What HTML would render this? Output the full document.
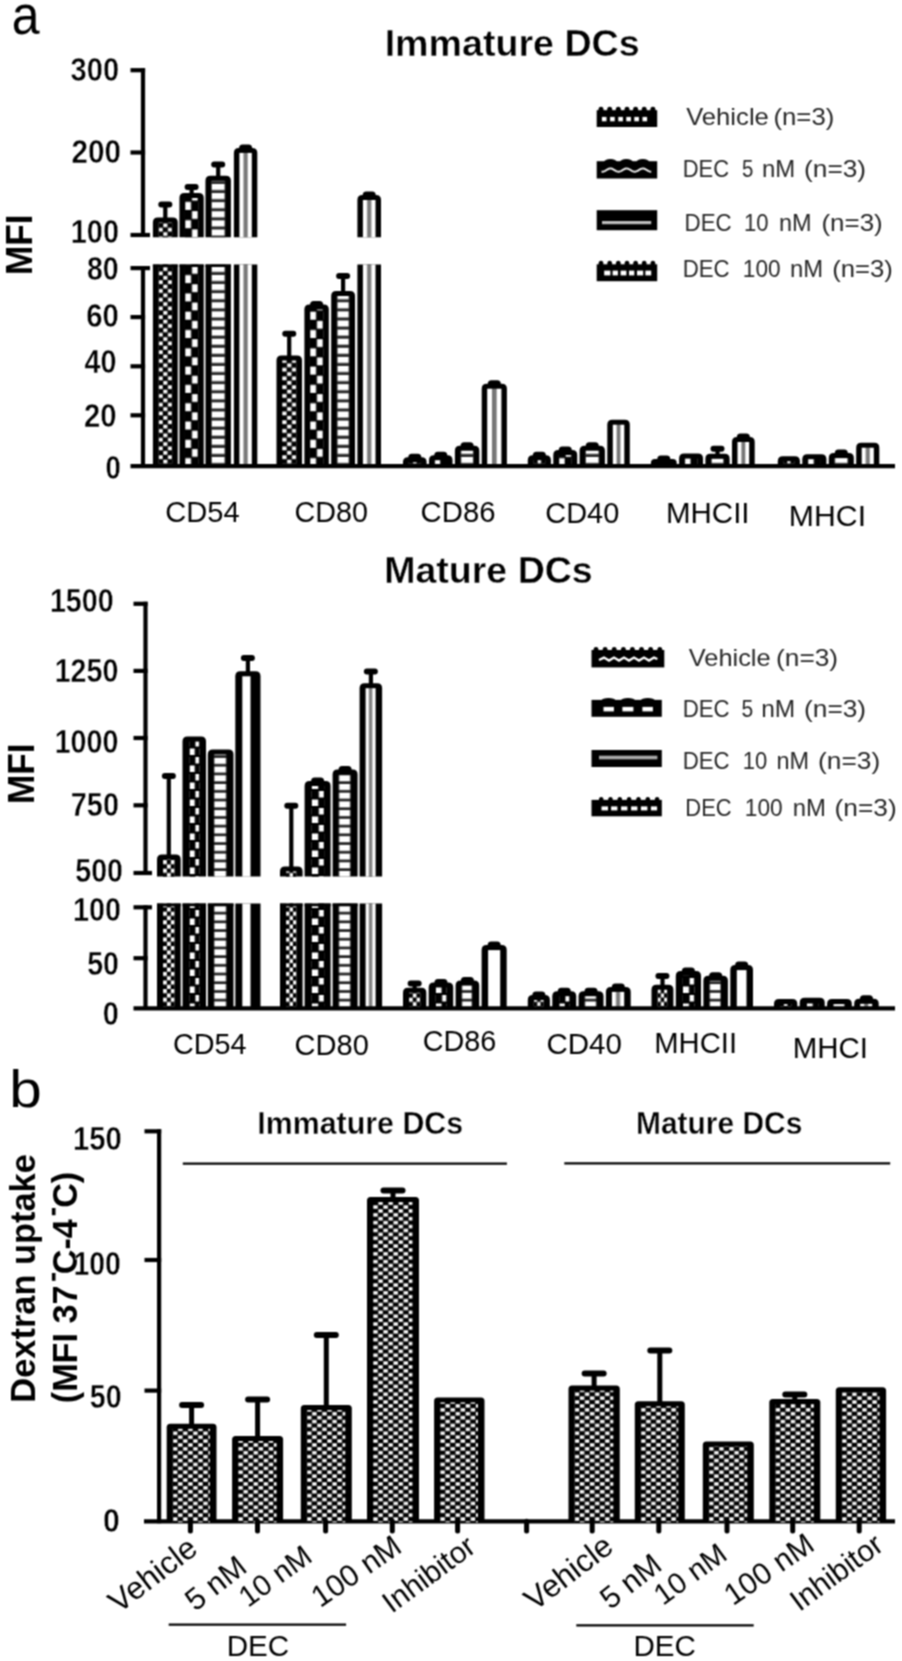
<!DOCTYPE html><html><head><meta charset="utf-8"><style>html,body{margin:0;padding:0;background:#fff;}svg{display:block;}#w{width:902px;height:1661px;overflow:hidden;}</style></head><body><div id="w">
<svg width="902" height="1661" viewBox="0 0 902 1661" font-family='"Liberation Sans", sans-serif'>
<filter id="bl" x="0" y="0" width="902" height="1661" filterUnits="userSpaceOnUse" color-interpolation-filters="sRGB"><feConvolveMatrix order="3" kernelMatrix="1 2 1 2 4 2 1 2 1" divisor="16" edgeMode="duplicate"/></filter>
<g filter="url(#bl)">
<rect width="902" height="1661" fill="#fff"/>
<text x="11.75" y="33.90" font-size="55" font-weight="normal" fill="#000" textLength="27.81" lengthAdjust="spacingAndGlyphs" >a</text>
<text x="384.65" y="56.00" font-size="37" font-weight="bold" fill="#000" textLength="255.04" lengthAdjust="spacingAndGlyphs" stroke="#fff" stroke-width="0.4">Immature DCs</text>
<g transform="translate(32.30,272.70) rotate(-90)">
<text x="-2.28" y="0.00" font-size="36" font-weight="bold" fill="#000" textLength="60.42" lengthAdjust="spacingAndGlyphs" >MFI</text>
</g>
<line x1="143.0" y1="68.3" x2="143.0" y2="237.0" stroke="#000" stroke-width="4.2" stroke-linecap="butt"/>
<line x1="130.5" y1="70.2" x2="145.1" y2="70.2" stroke="#000" stroke-width="4.2" stroke-linecap="butt"/>
<line x1="130.5" y1="152.5" x2="145.1" y2="152.5" stroke="#000" stroke-width="4.2" stroke-linecap="butt"/>
<line x1="130.5" y1="235.0" x2="150.0" y2="235.0" stroke="#000" stroke-width="4.2" stroke-linecap="butt"/>
<line x1="130.5" y1="268.1" x2="150.0" y2="268.1" stroke="#000" stroke-width="4.2" stroke-linecap="butt"/>
<line x1="143.0" y1="266.0" x2="143.0" y2="467.0" stroke="#000" stroke-width="4.2" stroke-linecap="butt"/>
<line x1="130.5" y1="317.1" x2="145.1" y2="317.1" stroke="#000" stroke-width="4.2" stroke-linecap="butt"/>
<line x1="130.5" y1="366.3" x2="145.1" y2="366.3" stroke="#000" stroke-width="4.2" stroke-linecap="butt"/>
<line x1="130.5" y1="415.3" x2="145.1" y2="415.3" stroke="#000" stroke-width="4.2" stroke-linecap="butt"/>
<text x="70.57" y="80.89" font-size="33" font-weight="bold" fill="#000" textLength="48.49" lengthAdjust="spacingAndGlyphs" stroke="#fff" stroke-width="0.45">300</text>
<text x="71.56" y="163.08" font-size="33" font-weight="bold" fill="#000" textLength="49.53" lengthAdjust="spacingAndGlyphs" stroke="#fff" stroke-width="0.45">200</text>
<text x="70.72" y="243.08" font-size="33" font-weight="bold" fill="#000" textLength="48.24" lengthAdjust="spacingAndGlyphs" stroke="#fff" stroke-width="0.45">100</text>
<text x="86.95" y="280.08" font-size="33" font-weight="bold" fill="#000" textLength="31.66" lengthAdjust="spacingAndGlyphs" stroke="#fff" stroke-width="0.45">80</text>
<text x="86.18" y="326.69" font-size="33" font-weight="bold" fill="#000" textLength="32.56" lengthAdjust="spacingAndGlyphs" stroke="#fff" stroke-width="0.45">60</text>
<text x="84.57" y="373.38" font-size="33" font-weight="bold" fill="#000" textLength="31.95" lengthAdjust="spacingAndGlyphs" stroke="#fff" stroke-width="0.45">40</text>
<text x="83.98" y="427.49" font-size="33" font-weight="bold" fill="#000" textLength="32.56" lengthAdjust="spacingAndGlyphs" stroke="#fff" stroke-width="0.45">20</text>
<text x="105.60" y="478.88" font-size="33" font-weight="bold" fill="#000" textLength="15.34" lengthAdjust="spacingAndGlyphs" stroke="#fff" stroke-width="0.45">0</text>
<g transform="translate(152.90,0)">
<path d="M0,237.2 V222.5 Q0,217.5 5.0,217.5 H19.85 Q24.85,217.5 24.85,222.5 V237.2 Z" fill="#000"/>
<rect x="5.5" y="222.5" width="13.85" height="14.7" fill="url(#q1)"/>
</g>
<g transform="translate(152.90,0)">
<rect x="0" y="264.5" width="24.85" height="202.6" fill="#000"/>
<rect x="5.5" y="264.5" width="13.85" height="202.6" fill="url(#q2)"/>
</g>
<rect x="152.90" y="264.50" width="24.85" height="2.5" fill="#000"/>
<line x1="165.3" y1="218.5" x2="165.3" y2="204.5" stroke="#000" stroke-width="4.2" stroke-linecap="butt"/>
<rect x="158.32" y="201.50" width="14" height="6" rx="3" ry="3" fill="#000"/>
<g transform="translate(179.45,0)">
<path d="M0,237.2 V198.0 Q0,193.0 5.0,193.0 H19.30 Q24.30,193.0 24.30,198.0 V237.2 Z" fill="#000"/>
<rect x="5.5" y="198.0" width="13.30" height="39.2" fill="url(#q3)"/>
</g>
<g transform="translate(179.45,0)">
<rect x="0" y="264.5" width="24.30" height="202.6" fill="#000"/>
<rect x="5.5" y="264.5" width="13.30" height="202.6" fill="url(#q4)"/>
</g>
<rect x="179.45" y="264.50" width="24.30" height="2.5" fill="#000"/>
<line x1="191.6" y1="194.0" x2="191.6" y2="187.0" stroke="#000" stroke-width="4.2" stroke-linecap="butt"/>
<rect x="184.60" y="184.00" width="14" height="6" rx="3" ry="3" fill="#000"/>
<g transform="translate(205.45,0)">
<path d="M0,237.2 V180.8 Q0,175.8 5.0,175.8 H20.45 Q25.45,175.8 25.45,180.8 V237.2 Z" fill="#000"/>
<rect x="5.5" y="180.8" width="14.45" height="56.4" fill="url(#q5)"/>
</g>
<g transform="translate(205.45,0)">
<rect x="0" y="264.5" width="25.45" height="202.6" fill="#000"/>
<rect x="5.5" y="264.5" width="14.45" height="202.6" fill="url(#q6)"/>
</g>
<rect x="205.45" y="264.50" width="25.45" height="2.5" fill="#000"/>
<line x1="218.2" y1="176.8" x2="218.2" y2="164.4" stroke="#000" stroke-width="4.2" stroke-linecap="butt"/>
<rect x="211.18" y="161.40" width="14" height="6" rx="3" ry="3" fill="#000"/>
<g transform="translate(233.90,0)">
<path d="M0,237.2 V152.9 Q0,147.9 5.0,147.9 H18.40 Q23.40,147.9 23.40,152.9 V237.2 Z" fill="#000"/>
<rect x="5.5" y="152.9" width="12.40" height="84.3" fill="url(#q7)"/>
</g>
<g transform="translate(233.90,0)">
<rect x="0" y="264.5" width="23.40" height="202.6" fill="#000"/>
<rect x="5.5" y="264.5" width="12.40" height="202.6" fill="url(#q8)"/>
</g>
<rect x="239.10" y="144.40" width="13" height="7" rx="3.5" ry="3.5" fill="#000"/>
<g transform="translate(276.50,0)">
<path d="M0,467.1 V360.5 Q0,355.5 5.0,355.5 H20.50 Q25.50,355.5 25.50,360.5 V467.1 Z" fill="#000"/>
<rect x="5.5" y="360.5" width="14.50" height="106.6" fill="url(#q9)"/>
</g>
<line x1="289.2" y1="356.5" x2="289.2" y2="333.7" stroke="#000" stroke-width="4.2" stroke-linecap="butt"/>
<rect x="282.25" y="330.70" width="14" height="6" rx="3" ry="3" fill="#000"/>
<g transform="translate(304.40,0)">
<path d="M0,467.1 V309.5 Q0,304.5 5.0,304.5 H19.40 Q24.40,304.5 24.40,309.5 V467.1 Z" fill="#000"/>
<rect x="5.5" y="309.5" width="13.40" height="157.6" fill="url(#q10)"/>
</g>
<rect x="310.10" y="301.00" width="13" height="7" rx="3.5" ry="3.5" fill="#000"/>
<g transform="translate(331.20,0)">
<path d="M0,467.1 V296.0 Q0,291.0 5.0,291.0 H18.80 Q23.80,291.0 23.80,296.0 V467.1 Z" fill="#000"/>
<rect x="5.5" y="296.0" width="12.80" height="171.1" fill="url(#q11)"/>
</g>
<line x1="343.1" y1="292.0" x2="343.1" y2="276.1" stroke="#000" stroke-width="4.2" stroke-linecap="butt"/>
<rect x="336.10" y="273.10" width="14" height="6" rx="3" ry="3" fill="#000"/>
<g transform="translate(357.40,0)">
<path d="M0,237.2 V200.0 Q0,195.0 5.0,195.0 H18.60 Q23.60,195.0 23.60,200.0 V237.2 Z" fill="#000"/>
<rect x="5.5" y="200.0" width="12.60" height="37.2" fill="url(#q12)"/>
</g>
<g transform="translate(357.40,0)">
<rect x="0" y="264.5" width="23.60" height="202.6" fill="#000"/>
<rect x="5.5" y="264.5" width="12.60" height="202.6" fill="url(#q13)"/>
</g>
<rect x="362.70" y="191.50" width="13" height="7" rx="3.5" ry="3.5" fill="#000"/>
<g transform="translate(403.00,0)">
<path d="M0,467.1 V462.1 Q0,457.2 4.950000000000017,457.2 H18.65 Q23.60,457.2 23.60,462.1 V467.1 Z" fill="#000"/>
<rect x="5.5" y="462.2" width="12.60" height="4.9" fill="url(#q14)"/>
</g>
<rect x="408.30" y="453.70" width="13" height="7" rx="3.5" ry="3.5" fill="#000"/>
<g transform="translate(429.00,0)">
<path d="M0,467.1 V460.2 Q0,455.2 5.0,455.2 H18.50 Q23.50,455.2 23.50,460.2 V467.1 Z" fill="#000"/>
<rect x="5.5" y="460.2" width="12.50" height="6.9" fill="url(#q15)"/>
</g>
<rect x="434.25" y="451.70" width="13" height="7" rx="3.5" ry="3.5" fill="#000"/>
<g transform="translate(454.90,0)">
<path d="M0,467.1 V450.7 Q0,445.7 5.0,445.7 H19.40 Q24.40,445.7 24.40,450.7 V467.1 Z" fill="#000"/>
<rect x="5.5" y="450.7" width="13.40" height="16.4" fill="url(#q16)"/>
</g>
<rect x="460.60" y="442.20" width="13" height="7" rx="3.5" ry="3.5" fill="#000"/>
<g transform="translate(481.70,0)">
<path d="M0,467.1 V388.7 Q0,383.7 5.0,383.7 H20.20 Q25.20,383.7 25.20,388.7 V467.1 Z" fill="#000"/>
<rect x="5.5" y="388.7" width="14.20" height="78.4" fill="url(#q17)"/>
</g>
<rect x="487.80" y="380.20" width="13" height="7" rx="3.5" ry="3.5" fill="#000"/>
<g transform="translate(527.80,0)">
<path d="M0,467.1 V460.2 Q0,455.2 5.0,455.2 H18.10 Q23.10,455.2 23.10,460.2 V467.1 Z" fill="#000"/>
<rect x="5.5" y="460.2" width="12.10" height="6.9" fill="url(#q18)"/>
</g>
<rect x="532.85" y="451.70" width="13" height="7" rx="3.5" ry="3.5" fill="#000"/>
<g transform="translate(553.30,0)">
<path d="M0,467.1 V455.0 Q0,450.0 5.0,450.0 H18.90 Q23.90,450.0 23.90,455.0 V467.1 Z" fill="#000"/>
<rect x="5.5" y="455.0" width="12.90" height="12.1" fill="url(#q19)"/>
</g>
<rect x="558.75" y="446.50" width="13" height="7" rx="3.5" ry="3.5" fill="#000"/>
<g transform="translate(579.60,0)">
<path d="M0,467.1 V450.7 Q0,445.7 5.0,445.7 H20.30 Q25.30,445.7 25.30,450.7 V467.1 Z" fill="#000"/>
<rect x="5.5" y="450.7" width="14.30" height="16.4" fill="url(#q20)"/>
</g>
<rect x="585.75" y="442.20" width="13" height="7" rx="3.5" ry="3.5" fill="#000"/>
<g transform="translate(607.30,0)">
<path d="M0,467.1 V424.7 Q0,419.7 5.0,419.7 H17.50 Q22.50,419.7 22.50,424.7 V467.1 Z" fill="#000"/>
<rect x="5.5" y="424.7" width="11.50" height="42.4" fill="url(#q21)"/>
</g>
<g transform="translate(650.90,0)">
<path d="M0,467.1 V463.1 Q0,459.0 4.050000000000011,459.0 H21.75 Q25.80,459.0 25.80,463.1 V467.1 Z" fill="#000"/>
<rect x="5.5" y="464.0" width="14.80" height="3.1" fill="url(#q22)"/>
</g>
<rect x="657.30" y="455.50" width="13" height="7" rx="3.5" ry="3.5" fill="#000"/>
<g transform="translate(679.10,0)">
<path d="M0,467.1 V458.4 Q0,453.4 5.0,453.4 H18.90 Q23.90,453.4 23.90,458.4 V467.1 Z" fill="#000"/>
<rect x="5.5" y="458.4" width="12.90" height="8.7" fill="url(#q23)"/>
</g>
<g transform="translate(705.40,0)">
<path d="M0,467.1 V458.8 Q0,453.8 5.0,453.8 H19.20 Q24.20,453.8 24.20,458.8 V467.1 Z" fill="#000"/>
<rect x="5.5" y="458.8" width="13.20" height="8.3" fill="url(#q24)"/>
</g>
<line x1="717.5" y1="454.8" x2="717.5" y2="448.7" stroke="#000" stroke-width="4.2" stroke-linecap="butt"/>
<rect x="710.50" y="445.70" width="14" height="6" rx="3" ry="3" fill="#000"/>
<g transform="translate(732.00,0)">
<path d="M0,467.1 V442.0 Q0,437.0 5.0,437.0 H17.70 Q22.70,437.0 22.70,442.0 V467.1 Z" fill="#000"/>
<rect x="5.5" y="442.0" width="11.70" height="25.1" fill="url(#q25)"/>
</g>
<rect x="736.85" y="433.50" width="13" height="7" rx="3.5" ry="3.5" fill="#000"/>
<g transform="translate(777.80,0)">
<path d="M0,467.1 V461.2 Q0,456.2 5.0,456.2 H17.10 Q22.10,456.2 22.10,461.2 V467.1 Z" fill="#000"/>
<rect x="5.5" y="461.2" width="11.10" height="5.9" fill="url(#q26)"/>
</g>
<g transform="translate(802.30,0)">
<path d="M0,467.1 V459.2 Q0,454.2 5.0,454.2 H19.10 Q24.10,454.2 24.10,459.2 V467.1 Z" fill="#000"/>
<rect x="5.5" y="459.2" width="13.10" height="7.9" fill="url(#q27)"/>
</g>
<g transform="translate(828.80,0)">
<path d="M0,467.1 V458.1 Q0,453.1 5.0,453.1 H20.00 Q25.00,453.1 25.00,458.1 V467.1 Z" fill="#000"/>
<rect x="5.5" y="458.1" width="14.00" height="9.0" fill="url(#q28)"/>
</g>
<rect x="834.80" y="449.60" width="13" height="7" rx="3.5" ry="3.5" fill="#000"/>
<g transform="translate(856.20,0)">
<path d="M0,467.1 V447.7 Q0,442.7 5.0,442.7 H18.10 Q23.10,442.7 23.10,447.7 V467.1 Z" fill="#000"/>
<rect x="5.5" y="447.7" width="12.10" height="19.4" fill="url(#q29)"/>
</g>
<line x1="130.5" y1="466.1" x2="895.0" y2="466.1" stroke="#000" stroke-width="4.2" stroke-linecap="butt"/>
<text x="165.35" y="522.20" font-size="29" font-weight="normal" fill="#000" textLength="74.38" lengthAdjust="spacingAndGlyphs" >CD54</text>
<text x="294.56" y="522.20" font-size="29" font-weight="normal" fill="#000" textLength="73.43" lengthAdjust="spacingAndGlyphs" >CD80</text>
<text x="420.64" y="522.20" font-size="29" font-weight="normal" fill="#000" textLength="74.83" lengthAdjust="spacingAndGlyphs" >CD86</text>
<text x="545.36" y="522.50" font-size="29" font-weight="normal" fill="#000" textLength="73.85" lengthAdjust="spacingAndGlyphs" >CD40</text>
<text x="665.94" y="522.50" font-size="29" font-weight="normal" fill="#000" textLength="83.61" lengthAdjust="spacingAndGlyphs" >MHCII</text>
<text x="788.88" y="526.40" font-size="29" font-weight="normal" fill="#000" textLength="77.19" lengthAdjust="spacingAndGlyphs" >MHCI</text>
<rect x="596.7" y="110.2" width="60.5" height="16.8" fill="#000"/>
<ellipse cx="601.0" cy="110.2" rx="2.6" ry="3.4" fill="#000"/><ellipse cx="609.7" cy="110.2" rx="2.6" ry="3.4" fill="#000"/><ellipse cx="618.3" cy="110.2" rx="2.6" ry="3.4" fill="#000"/><ellipse cx="627.0" cy="110.2" rx="2.6" ry="3.4" fill="#000"/><ellipse cx="635.6" cy="110.2" rx="2.6" ry="3.4" fill="#000"/><ellipse cx="644.2" cy="110.2" rx="2.6" ry="3.4" fill="#000"/><ellipse cx="652.9" cy="110.2" rx="2.6" ry="3.4" fill="#000"/>
<rect x="601.9" y="116.9" width="4.6" height="4.4" fill="#fff"/>
<rect x="610.1" y="116.9" width="4.6" height="4.4" fill="#fff"/>
<rect x="618.3" y="116.9" width="4.6" height="4.4" fill="#fff"/>
<rect x="626.3" y="116.9" width="4.6" height="4.4" fill="#fff"/>
<rect x="634.3" y="116.9" width="4.6" height="4.4" fill="#fff"/>
<rect x="642.5" y="116.9" width="4.6" height="4.4" fill="#fff"/>
<rect x="596.7" y="161.2" width="60.5" height="17.3" fill="#000"/>
<ellipse cx="610.4" cy="162.2" rx="6.5" ry="3.2" fill="#000"/>
<ellipse cx="626.4" cy="162.2" rx="6.5" ry="3.2" fill="#000"/>
<ellipse cx="642.8" cy="162.2" rx="6.5" ry="3.2" fill="#000"/>
<polyline points="601.5,171.6 602.1,171.7 602.7,171.7 603.4,171.6 604.0,171.4 604.6,171.1 605.2,170.8 605.8,170.4 606.5,170.0 607.1,169.6 607.7,169.3 608.3,169.0 609.0,168.7 609.6,168.6 610.2,168.5 610.8,168.5 611.4,168.6 612.1,168.8 612.7,169.1 613.3,169.4 613.9,169.8 614.5,170.2 615.2,170.5 615.8,170.9 616.4,171.2 617.0,171.4 617.7,171.6 618.3,171.7 618.9,171.7 619.5,171.6 620.1,171.4 620.8,171.1 621.4,170.8 622.0,170.4 622.6,170.1 623.2,169.7 623.9,169.3 624.5,169.0 625.1,168.8 625.7,168.6 626.4,168.5 627.0,168.5 627.6,168.6 628.2,168.8 628.8,169.1 629.5,169.4 630.1,169.7 630.7,170.1 631.3,170.5 631.9,170.9 632.6,171.2 633.2,171.4 633.8,171.6 634.4,171.7 635.0,171.7 635.7,171.6 636.3,171.4 636.9,171.1 637.5,170.8 638.2,170.5 638.8,170.1 639.4,169.7 640.0,169.3 640.6,169.0 641.3,168.8 641.9,168.6 642.5,168.5 643.1,168.5 643.7,168.6 644.4,168.8 645.0,169.0 645.6,169.4 646.2,169.7 646.9,170.1 647.5,170.5 648.1,170.8 648.7,171.2 649.3,171.4 650.0,171.6 650.6,171.7 651.2,171.7" fill="none" stroke="#e8e8e8" stroke-width="2.0"/>
<rect x="596.7" y="210.2" width="60.5" height="20" fill="#000"/>
<rect x="602" y="221" width="49.2" height="3.2" fill="#bdbdbd"/>
<rect x="596.7" y="264.3" width="60.5" height="16.9" fill="#000"/>
<ellipse cx="601.0" cy="263.6" rx="2.4" ry="2.9" fill="#000"/><ellipse cx="609.7" cy="263.6" rx="2.4" ry="2.9" fill="#000"/><ellipse cx="618.3" cy="263.6" rx="2.4" ry="2.9" fill="#000"/><ellipse cx="627.0" cy="263.6" rx="2.4" ry="2.9" fill="#000"/><ellipse cx="635.6" cy="263.6" rx="2.4" ry="2.9" fill="#000"/><ellipse cx="644.2" cy="263.6" rx="2.4" ry="2.9" fill="#000"/><ellipse cx="652.9" cy="263.6" rx="2.4" ry="2.9" fill="#000"/>
<rect x="604.2" y="270.6" width="6.2" height="4.8" fill="#fff"/>
<rect x="612.6" y="270.6" width="5.3" height="4.8" fill="#fff"/>
<rect x="620.6" y="270.6" width="5.8" height="4.8" fill="#fff"/>
<rect x="629.0" y="270.6" width="5.3" height="4.8" fill="#fff"/>
<rect x="637.0" y="270.6" width="6.2" height="4.8" fill="#fff"/>
<rect x="645.4" y="270.6" width="5.8" height="4.8" fill="#fff"/>
<text x="686.17" y="125.20" font-size="24" font-weight="normal" fill="#262626" textLength="82.68" lengthAdjust="spacingAndGlyphs" >Vehicle</text>
<text x="773.45" y="125.20" font-size="24" font-weight="normal" fill="#262626" textLength="60.85" lengthAdjust="spacingAndGlyphs" >(n=3)</text>
<text x="682.75" y="176.50" font-size="24" font-weight="normal" fill="#262626" textLength="46.26" lengthAdjust="spacingAndGlyphs" >DEC</text>
<text x="741.88" y="176.50" font-size="24" font-weight="normal" fill="#262626" textLength="11.36" lengthAdjust="spacingAndGlyphs" >5</text>
<text x="761.94" y="176.50" font-size="24" font-weight="normal" fill="#262626" textLength="33.27" lengthAdjust="spacingAndGlyphs" >nM</text>
<text x="804.02" y="176.50" font-size="24" font-weight="normal" fill="#262626" textLength="62.12" lengthAdjust="spacingAndGlyphs" >(n=3)</text>
<text x="684.52" y="230.50" font-size="24" font-weight="normal" fill="#262626" textLength="47.11" lengthAdjust="spacingAndGlyphs" >DEC</text>
<text x="744.04" y="230.50" font-size="24" font-weight="normal" fill="#262626" textLength="24.59" lengthAdjust="spacingAndGlyphs" >10</text>
<text x="779.07" y="230.50" font-size="24" font-weight="normal" fill="#262626" textLength="32.60" lengthAdjust="spacingAndGlyphs" >nM</text>
<text x="821.44" y="230.50" font-size="24" font-weight="normal" fill="#262626" textLength="61.28" lengthAdjust="spacingAndGlyphs" >(n=3)</text>
<text x="682.72" y="277.00" font-size="24" font-weight="normal" fill="#262626" textLength="46.90" lengthAdjust="spacingAndGlyphs" >DEC</text>
<text x="742.80" y="277.00" font-size="24" font-weight="normal" fill="#262626" textLength="37.78" lengthAdjust="spacingAndGlyphs" >100</text>
<text x="790.05" y="277.00" font-size="24" font-weight="normal" fill="#262626" textLength="33.16" lengthAdjust="spacingAndGlyphs" >nM</text>
<text x="832.16" y="277.00" font-size="24" font-weight="normal" fill="#262626" textLength="60.75" lengthAdjust="spacingAndGlyphs" >(n=3)</text>
<text x="384.16" y="582.60" font-size="37" font-weight="bold" fill="#000" textLength="208.61" lengthAdjust="spacingAndGlyphs" stroke="#fff" stroke-width="0.4">Mature DCs</text>
<g transform="translate(34.40,801.70) rotate(-90)">
<text x="-2.29" y="0.00" font-size="36" font-weight="bold" fill="#000" textLength="60.53" lengthAdjust="spacingAndGlyphs" >MFI</text>
</g>
<line x1="145.5" y1="601.7" x2="145.5" y2="875.0" stroke="#000" stroke-width="4.2" stroke-linecap="butt"/>
<line x1="133.5" y1="603.8" x2="147.6" y2="603.8" stroke="#000" stroke-width="4.2" stroke-linecap="butt"/>
<line x1="133.5" y1="670.9" x2="147.6" y2="670.9" stroke="#000" stroke-width="4.2" stroke-linecap="butt"/>
<line x1="133.5" y1="738.0" x2="147.6" y2="738.0" stroke="#000" stroke-width="4.2" stroke-linecap="butt"/>
<line x1="133.5" y1="805.3" x2="147.6" y2="805.3" stroke="#000" stroke-width="4.2" stroke-linecap="butt"/>
<line x1="133.5" y1="873.0" x2="152.0" y2="873.0" stroke="#000" stroke-width="4.2" stroke-linecap="butt"/>
<line x1="133.5" y1="907.3" x2="152.0" y2="907.3" stroke="#000" stroke-width="4.2" stroke-linecap="butt"/>
<line x1="145.5" y1="905.2" x2="145.5" y2="1009.0" stroke="#000" stroke-width="4.2" stroke-linecap="butt"/>
<line x1="133.5" y1="958.2" x2="147.6" y2="958.2" stroke="#000" stroke-width="4.2" stroke-linecap="butt"/>
<text x="49.94" y="611.99" font-size="33" font-weight="bold" fill="#000" textLength="63.70" lengthAdjust="spacingAndGlyphs" stroke="#fff" stroke-width="0.45">1500</text>
<text x="54.64" y="682.49" font-size="33" font-weight="bold" fill="#000" textLength="63.70" lengthAdjust="spacingAndGlyphs" stroke="#fff" stroke-width="0.45">1250</text>
<text x="54.64" y="752.99" font-size="33" font-weight="bold" fill="#000" textLength="63.70" lengthAdjust="spacingAndGlyphs" stroke="#fff" stroke-width="0.45">1000</text>
<text x="70.80" y="815.99" font-size="33" font-weight="bold" fill="#000" textLength="48.15" lengthAdjust="spacingAndGlyphs" stroke="#fff" stroke-width="0.45">750</text>
<text x="75.24" y="881.88" font-size="33" font-weight="bold" fill="#000" textLength="47.70" lengthAdjust="spacingAndGlyphs" stroke="#fff" stroke-width="0.45">500</text>
<text x="72.93" y="921.38" font-size="33" font-weight="bold" fill="#000" textLength="48.02" lengthAdjust="spacingAndGlyphs" stroke="#fff" stroke-width="0.45">100</text>
<text x="87.25" y="975.38" font-size="33" font-weight="bold" fill="#000" textLength="31.66" lengthAdjust="spacingAndGlyphs" stroke="#fff" stroke-width="0.45">50</text>
<text x="102.85" y="1024.59" font-size="33" font-weight="bold" fill="#000" textLength="16.04" lengthAdjust="spacingAndGlyphs" stroke="#fff" stroke-width="0.45">0</text>
<g transform="translate(157.00,0)">
<path d="M0,876.6 V859.6 Q0,854.6 5.0,854.6 H18.70 Q23.70,854.6 23.70,859.6 V876.6 Z" fill="#000"/>
<rect x="6" y="859.6" width="11.70" height="17.0" fill="url(#q30)"/>
</g>
<g transform="translate(157.00,0)">
<rect x="0" y="903.5" width="23.70" height="105.8" fill="#000"/>
<rect x="6" y="903.5" width="11.70" height="105.8" fill="url(#q31)"/>
</g>
<rect x="157.00" y="903.50" width="23.70" height="2.8" fill="#000"/>
<line x1="168.8" y1="855.6" x2="168.8" y2="776.0" stroke="#000" stroke-width="4.2" stroke-linecap="butt"/>
<rect x="161.85" y="773.00" width="14" height="6" rx="3" ry="3" fill="#000"/>
<g transform="translate(182.50,0)">
<path d="M0,876.6 V741.6 Q0,736.6 5.0,736.6 H18.50 Q23.50,736.6 23.50,741.6 V876.6 Z" fill="#000"/>
<rect x="7" y="741.6" width="10.00" height="135.0" fill="url(#q32)"/>
</g>
<g transform="translate(182.50,0)">
<rect x="0" y="903.5" width="23.50" height="105.8" fill="#000"/>
<rect x="7" y="903.5" width="10.00" height="105.8" fill="url(#q33)"/>
</g>
<rect x="182.50" y="903.50" width="23.50" height="2.8" fill="#000"/>
<g transform="translate(207.80,0)">
<path d="M0,876.6 V754.5 Q0,749.5 5.0,749.5 H20.70 Q25.70,749.5 25.70,754.5 V876.6 Z" fill="#000"/>
<rect x="6" y="754.5" width="12.70" height="122.1" fill="url(#q34)"/>
</g>
<g transform="translate(207.80,0)">
<rect x="0" y="903.5" width="25.70" height="105.8" fill="#000"/>
<rect x="6" y="903.5" width="12.70" height="105.8" fill="url(#q35)"/>
</g>
<rect x="207.80" y="903.50" width="25.70" height="2.8" fill="#000"/>
<g transform="translate(235.30,0)">
<path d="M0,876.6 V676.3 Q0,671.3 5.0,671.3 H20.20 Q25.20,671.3 25.20,676.3 V876.6 Z" fill="#000"/>
<rect x="7" y="676.3" width="8.20" height="200.3" fill="#fff"/>
</g>
<g transform="translate(235.30,0)">
<rect x="0" y="903.5" width="25.20" height="105.8" fill="#000"/>
<rect x="7" y="903.5" width="8.20" height="105.8" fill="#fff"/>
</g>
<line x1="247.9" y1="672.3" x2="247.9" y2="658.0" stroke="#000" stroke-width="4.2" stroke-linecap="butt"/>
<rect x="240.90" y="655.00" width="14" height="6" rx="3" ry="3" fill="#000"/>
<g transform="translate(280.00,0)">
<path d="M0,876.6 V871.4 Q0,866.4 5.0,866.4 H17.60 Q22.60,866.4 22.60,871.4 V876.6 Z" fill="#000"/>
<rect x="6" y="871.4" width="10.60" height="5.2" fill="url(#q36)"/>
</g>
<g transform="translate(280.00,0)">
<rect x="0" y="903.5" width="22.60" height="105.8" fill="#000"/>
<rect x="6" y="903.5" width="10.60" height="105.8" fill="url(#q37)"/>
</g>
<rect x="280.00" y="903.50" width="22.60" height="2.8" fill="#000"/>
<line x1="291.3" y1="867.4" x2="291.3" y2="805.8" stroke="#000" stroke-width="4.2" stroke-linecap="butt"/>
<rect x="284.30" y="802.80" width="14" height="6" rx="3" ry="3" fill="#000"/>
<g transform="translate(304.60,0)">
<path d="M0,876.6 V786.0 Q0,781.0 5.0,781.0 H21.00 Q26.00,781.0 26.00,786.0 V876.6 Z" fill="#000"/>
<rect x="7" y="786.0" width="12.50" height="90.6" fill="url(#q38)"/>
</g>
<g transform="translate(304.60,0)">
<rect x="0" y="903.5" width="26.00" height="105.8" fill="#000"/>
<rect x="7" y="903.5" width="12.50" height="105.8" fill="url(#q39)"/>
</g>
<rect x="304.60" y="903.50" width="26.00" height="2.8" fill="#000"/>
<rect x="311.10" y="777.50" width="13" height="7" rx="3.5" ry="3.5" fill="#000"/>
<g transform="translate(332.60,0)">
<path d="M0,876.6 V774.5 Q0,769.5 5.0,769.5 H20.00 Q25.00,769.5 25.00,774.5 V876.6 Z" fill="#000"/>
<rect x="6" y="774.5" width="12.00" height="102.1" fill="url(#q40)"/>
</g>
<g transform="translate(332.60,0)">
<rect x="0" y="903.5" width="25.00" height="105.8" fill="#000"/>
<rect x="6" y="903.5" width="12.00" height="105.8" fill="url(#q41)"/>
</g>
<rect x="332.60" y="903.50" width="25.00" height="2.8" fill="#000"/>
<rect x="338.60" y="766.00" width="13" height="7" rx="3.5" ry="3.5" fill="#000"/>
<g transform="translate(359.60,0)">
<path d="M0,876.6 V688.2 Q0,683.2 5.0,683.2 H17.50 Q22.50,683.2 22.50,688.2 V876.6 Z" fill="#000"/>
<rect x="6" y="688.2" width="10.00" height="188.4" fill="url(#q42)"/>
</g>
<g transform="translate(359.60,0)">
<rect x="0" y="903.5" width="22.50" height="105.8" fill="#000"/>
<rect x="6" y="903.5" width="10.00" height="105.8" fill="url(#q43)"/>
</g>
<line x1="370.9" y1="684.2" x2="370.9" y2="671.5" stroke="#000" stroke-width="4.2" stroke-linecap="butt"/>
<rect x="363.85" y="668.50" width="14" height="6" rx="3" ry="3" fill="#000"/>
<g transform="translate(403.00,0)">
<path d="M0,1009.3 V992.7 Q0,987.7 5.0,987.7 H18.30 Q23.30,987.7 23.30,992.7 V1009.3 Z" fill="#000"/>
<rect x="6" y="992.7" width="11.30" height="16.6" fill="url(#q44)"/>
</g>
<line x1="414.6" y1="988.7" x2="414.6" y2="983.4" stroke="#000" stroke-width="4.2" stroke-linecap="butt"/>
<rect x="407.65" y="980.40" width="14" height="6" rx="3" ry="3" fill="#000"/>
<g transform="translate(428.70,0)">
<path d="M0,1009.3 V987.5 Q0,982.5 5.0,982.5 H19.50 Q24.50,982.5 24.50,987.5 V1009.3 Z" fill="#000"/>
<rect x="7" y="987.5" width="11.00" height="21.8" fill="url(#q45)"/>
</g>
<rect x="434.45" y="979.00" width="13" height="7" rx="3.5" ry="3.5" fill="#000"/>
<g transform="translate(455.60,0)">
<path d="M0,1009.3 V985.6 Q0,980.6 5.0,980.6 H18.60 Q23.60,980.6 23.60,985.6 V1009.3 Z" fill="#000"/>
<rect x="6" y="985.6" width="10.60" height="23.7" fill="url(#q46)"/>
</g>
<rect x="460.90" y="977.10" width="13" height="7" rx="3.5" ry="3.5" fill="#000"/>
<g transform="translate(481.60,0)">
<path d="M0,1009.3 V950.1 Q0,945.1 5.0,945.1 H20.10 Q25.10,945.1 25.10,950.1 V1009.3 Z" fill="#000"/>
<rect x="6.5" y="950.1" width="12.10" height="59.2" fill="#fff"/>
</g>
<rect x="487.65" y="941.60" width="13" height="7" rx="3.5" ry="3.5" fill="#000"/>
<g transform="translate(527.80,0)">
<path d="M0,1009.3 V1000.0 Q0,995.0 5.0,995.0 H17.10 Q22.10,995.0 22.10,1000.0 V1009.3 Z" fill="#000"/>
<rect x="6" y="1000.0" width="10.10" height="9.3" fill="url(#q47)"/>
</g>
<rect x="532.35" y="991.50" width="13" height="7" rx="3.5" ry="3.5" fill="#000"/>
<g transform="translate(552.30,0)">
<path d="M0,1009.3 V996.2 Q0,991.2 5.0,991.2 H18.90 Q23.90,991.2 23.90,996.2 V1009.3 Z" fill="#000"/>
<rect x="7" y="996.2" width="10.40" height="13.1" fill="url(#q48)"/>
</g>
<rect x="557.75" y="987.70" width="13" height="7" rx="3.5" ry="3.5" fill="#000"/>
<g transform="translate(578.60,0)">
<path d="M0,1009.3 V996.2 Q0,991.2 5.0,991.2 H19.90 Q24.90,991.2 24.90,996.2 V1009.3 Z" fill="#000"/>
<rect x="6" y="996.2" width="11.90" height="13.1" fill="url(#q49)"/>
</g>
<rect x="584.55" y="987.70" width="13" height="7" rx="3.5" ry="3.5" fill="#000"/>
<g transform="translate(605.90,0)">
<path d="M0,1009.3 V991.9 Q0,986.9 5.0,986.9 H19.80 Q24.80,986.9 24.80,991.9 V1009.3 Z" fill="#000"/>
<rect x="6" y="991.9" width="12.30" height="17.4" fill="url(#q50)"/>
</g>
<rect x="611.80" y="983.40" width="13" height="7" rx="3.5" ry="3.5" fill="#000"/>
<g transform="translate(651.50,0)">
<path d="M0,1009.3 V989.7 Q0,984.7 5.0,984.7 H16.90 Q21.90,984.7 21.90,989.7 V1009.3 Z" fill="#000"/>
<rect x="6" y="989.7" width="9.90" height="19.6" fill="url(#q51)"/>
</g>
<line x1="662.5" y1="985.7" x2="662.5" y2="976.0" stroke="#000" stroke-width="4.2" stroke-linecap="butt"/>
<rect x="655.45" y="973.00" width="14" height="6" rx="3" ry="3" fill="#000"/>
<g transform="translate(675.80,0)">
<path d="M0,1009.3 V975.9 Q0,970.9 5.0,970.9 H20.20 Q25.20,970.9 25.20,975.9 V1009.3 Z" fill="#000"/>
<rect x="7" y="975.9" width="11.70" height="33.4" fill="url(#q52)"/>
</g>
<rect x="681.90" y="967.40" width="13" height="7" rx="3.5" ry="3.5" fill="#000"/>
<g transform="translate(703.40,0)">
<path d="M0,1009.3 V980.8 Q0,975.8 5.0,975.8 H19.50 Q24.50,975.8 24.50,980.8 V1009.3 Z" fill="#000"/>
<rect x="6" y="980.8" width="11.50" height="28.5" fill="url(#q53)"/>
</g>
<rect x="709.15" y="972.30" width="13" height="7" rx="3.5" ry="3.5" fill="#000"/>
<g transform="translate(730.30,0)">
<path d="M0,1009.3 V970.1 Q0,965.1 5.0,965.1 H17.70 Q22.70,965.1 22.70,970.1 V1009.3 Z" fill="#000"/>
<rect x="6.5" y="970.1" width="9.70" height="39.2" fill="#fff"/>
</g>
<rect x="735.15" y="961.60" width="13" height="7" rx="3.5" ry="3.5" fill="#000"/>
<g transform="translate(774.00,0)">
<path d="M0,1009.3 V1004.1 Q0,999.1 5.0,999.1 H18.30 Q23.30,999.1 23.30,1004.1 V1009.3 Z" fill="#000"/>
<rect x="6" y="1004.1" width="11.30" height="5.2" fill="url(#q54)"/>
</g>
<g transform="translate(799.70,0)">
<path d="M0,1009.3 V1002.7 Q0,997.7 5.0,997.7 H20.00 Q25.00,997.7 25.00,1002.7 V1009.3 Z" fill="#000"/>
<rect x="7" y="1002.7" width="11.50" height="6.6" fill="url(#q55)"/>
</g>
<g transform="translate(827.10,0)">
<path d="M0,1009.3 V1004.1 Q0,999.1 5.0,999.1 H19.70 Q24.70,999.1 24.70,1004.1 V1009.3 Z" fill="#000"/>
<rect x="6" y="1004.1" width="11.70" height="5.2" fill="url(#q56)"/>
</g>
<g transform="translate(854.20,0)">
<path d="M0,1009.3 V1003.8 Q0,998.8 5.0,998.8 H19.50 Q24.50,998.8 24.50,1003.8 V1009.3 Z" fill="#000"/>
<rect x="6" y="1003.8" width="12.00" height="5.5" fill="url(#q57)"/>
</g>
<rect x="859.95" y="995.30" width="13" height="7" rx="3.5" ry="3.5" fill="#000"/>
<line x1="133.5" y1="1008.3" x2="895.0" y2="1008.3" stroke="#000" stroke-width="4.2" stroke-linecap="butt"/>
<text x="173.06" y="1054.40" font-size="29" font-weight="normal" fill="#000" textLength="73.55" lengthAdjust="spacingAndGlyphs" >CD54</text>
<text x="294.55" y="1054.50" font-size="29" font-weight="normal" fill="#000" textLength="74.26" lengthAdjust="spacingAndGlyphs" >CD80</text>
<text x="422.66" y="1051.30" font-size="29" font-weight="normal" fill="#000" textLength="73.58" lengthAdjust="spacingAndGlyphs" >CD86</text>
<text x="546.53" y="1053.50" font-size="29" font-weight="normal" fill="#000" textLength="75.41" lengthAdjust="spacingAndGlyphs" >CD40</text>
<text x="654.26" y="1052.50" font-size="29" font-weight="normal" fill="#000" textLength="82.86" lengthAdjust="spacingAndGlyphs" >MHCII</text>
<text x="792.74" y="1057.50" font-size="29" font-weight="normal" fill="#000" textLength="75.26" lengthAdjust="spacingAndGlyphs" >MHCI</text>
<rect x="591.5" y="650" width="72.8" height="17.4" fill="#000"/>
<ellipse cx="596.0" cy="650.0" rx="2.5" ry="3.0" fill="#000"/><ellipse cx="605.1" cy="650.0" rx="2.5" ry="3.0" fill="#000"/><ellipse cx="614.2" cy="650.0" rx="2.5" ry="3.0" fill="#000"/><ellipse cx="623.4" cy="650.0" rx="2.5" ry="3.0" fill="#000"/><ellipse cx="632.4" cy="650.0" rx="2.5" ry="3.0" fill="#000"/><ellipse cx="641.5" cy="650.0" rx="2.5" ry="3.0" fill="#000"/><ellipse cx="650.6" cy="650.0" rx="2.5" ry="3.0" fill="#000"/><ellipse cx="659.8" cy="650.0" rx="2.5" ry="3.0" fill="#000"/>
<path d="M599,660 L604,657.6 L609,660.6 L614,657.6 L619,660.6 L624,657.6 L629,660.6 L634,657.6 L639,660.6 L644,657.6 L649,660.6 L654,657.6 L657.4,659" fill="none" stroke="#fff" stroke-width="2.3"/>
<rect x="591.5" y="699.9" width="70.3" height="16.9" fill="#000"/>
<ellipse cx="608.5" cy="700.6" rx="7" ry="2.6" fill="#000"/>
<ellipse cx="628" cy="700.6" rx="7" ry="2.6" fill="#000"/>
<ellipse cx="647.8" cy="700.6" rx="7" ry="2.6" fill="#000"/>
<rect x="603.5" y="706.9" width="10.4" height="4.5" fill="#fff"/>
<rect x="622.4" y="706.9" width="11.0" height="4.5" fill="#fff"/>
<rect x="642.4" y="706.9" width="10.5" height="4.5" fill="#fff"/>
<rect x="591.5" y="750" width="70.3" height="17" fill="#000"/>
<rect x="599" y="755.7" width="58.4" height="3.6" fill="#a8a8a8"/>
<rect x="591.5" y="799.9" width="70.3" height="16.4" fill="#000"/>
<ellipse cx="601.2" cy="799.7" rx="2.3" ry="2.8" fill="#000"/><ellipse cx="610.5" cy="799.7" rx="2.3" ry="2.8" fill="#000"/><ellipse cx="619.8" cy="799.7" rx="2.3" ry="2.8" fill="#000"/><ellipse cx="629.1" cy="799.7" rx="2.3" ry="2.8" fill="#000"/><ellipse cx="638.5" cy="799.7" rx="2.3" ry="2.8" fill="#000"/><ellipse cx="647.8" cy="799.7" rx="2.3" ry="2.8" fill="#000"/><ellipse cx="657.1" cy="799.7" rx="2.3" ry="2.8" fill="#000"/>
<rect x="601.5" y="806.4" width="6.5" height="4" fill="#fff"/>
<rect x="611.1" y="806.4" width="6.3" height="4" fill="#fff"/>
<rect x="621.1" y="806.4" width="6.3" height="4" fill="#fff"/>
<rect x="631.1" y="806.4" width="6.3" height="4" fill="#fff"/>
<rect x="640.9" y="806.4" width="6.5" height="4" fill="#fff"/>
<rect x="650.9" y="806.4" width="6.2" height="4" fill="#fff"/>
<text x="688.77" y="666.00" font-size="24" font-weight="normal" fill="#262626" textLength="81.86" lengthAdjust="spacingAndGlyphs" >Vehicle</text>
<text x="776.02" y="666.00" font-size="24" font-weight="normal" fill="#262626" textLength="62.12" lengthAdjust="spacingAndGlyphs" >(n=3)</text>
<text x="682.72" y="716.50" font-size="24" font-weight="normal" fill="#262626" textLength="46.90" lengthAdjust="spacingAndGlyphs" >DEC</text>
<text x="741.56" y="716.50" font-size="24" font-weight="normal" fill="#262626" textLength="11.71" lengthAdjust="spacingAndGlyphs" >5</text>
<text x="761.21" y="716.50" font-size="24" font-weight="normal" fill="#262626" textLength="34.06" lengthAdjust="spacingAndGlyphs" >nM</text>
<text x="804.02" y="716.50" font-size="24" font-weight="normal" fill="#262626" textLength="62.12" lengthAdjust="spacingAndGlyphs" >(n=3)</text>
<text x="682.72" y="768.50" font-size="24" font-weight="normal" fill="#262626" textLength="46.90" lengthAdjust="spacingAndGlyphs" >DEC</text>
<text x="742.85" y="768.50" font-size="24" font-weight="normal" fill="#262626" textLength="24.48" lengthAdjust="spacingAndGlyphs" >10</text>
<text x="776.57" y="768.50" font-size="24" font-weight="normal" fill="#262626" textLength="32.60" lengthAdjust="spacingAndGlyphs" >nM</text>
<text x="818.12" y="768.50" font-size="24" font-weight="normal" fill="#262626" textLength="62.12" lengthAdjust="spacingAndGlyphs" >(n=3)</text>
<text x="685.35" y="816.00" font-size="24" font-weight="normal" fill="#262626" textLength="46.26" lengthAdjust="spacingAndGlyphs" >DEC</text>
<text x="744.80" y="816.00" font-size="24" font-weight="normal" fill="#262626" textLength="37.89" lengthAdjust="spacingAndGlyphs" >100</text>
<text x="792.65" y="816.00" font-size="24" font-weight="normal" fill="#262626" textLength="33.16" lengthAdjust="spacingAndGlyphs" >nM</text>
<text x="834.62" y="816.00" font-size="24" font-weight="normal" fill="#262626" textLength="62.12" lengthAdjust="spacingAndGlyphs" >(n=3)</text>
<text x="9.30" y="1107.20" font-size="52" font-weight="normal" fill="#000" textLength="32.51" lengthAdjust="spacingAndGlyphs" >b</text>
<g transform="translate(34.60,1400.40) rotate(-90)">
<text x="-2.24" y="0.00" font-size="35" font-weight="bold" fill="#000" textLength="248.53" lengthAdjust="spacingAndGlyphs" >Dextran uptake</text>
</g>
<g transform="translate(76.50,1401.50) rotate(-90)">
<text x="-1.71" y="0.00" font-size="35" font-weight="bold" fill="#000" textLength="231.43" lengthAdjust="spacingAndGlyphs" >(MFI 37<tspan fill-opacity="0">&#730;</tspan>C-4<tspan fill-opacity="0">&#730;</tspan>C)</text>
</g>
<rect x="51.9" y="1208" width="3.6" height="7.2" fill="#000"/><rect x="51.9" y="1273" width="3.6" height="7.8" fill="#000"/>
<line x1="159.1" y1="1129.2" x2="159.1" y2="1523.3" stroke="#000" stroke-width="4.2" stroke-linecap="butt"/>
<line x1="144.5" y1="1131.3" x2="161.2" y2="1131.3" stroke="#000" stroke-width="4.2" stroke-linecap="butt"/>
<line x1="144.5" y1="1260.0" x2="161.2" y2="1260.0" stroke="#000" stroke-width="4.2" stroke-linecap="butt"/>
<line x1="144.5" y1="1390.6" x2="161.2" y2="1390.6" stroke="#000" stroke-width="4.2" stroke-linecap="butt"/>
<text x="72.90" y="1150.16" font-size="33.5" font-weight="bold" fill="#000" textLength="48.77" lengthAdjust="spacingAndGlyphs" stroke="#fff" stroke-width="0.45">150</text>
<text x="73.45" y="1274.56" font-size="33.5" font-weight="bold" fill="#000" textLength="47.49" lengthAdjust="spacingAndGlyphs" stroke="#fff" stroke-width="0.45">100</text>
<text x="89.84" y="1407.86" font-size="33.5" font-weight="bold" fill="#000" textLength="31.77" lengthAdjust="spacingAndGlyphs" stroke="#fff" stroke-width="0.45">50</text>
<text x="102.90" y="1531.86" font-size="33.5" font-weight="bold" fill="#000" textLength="16.74" lengthAdjust="spacingAndGlyphs" stroke="#fff" stroke-width="0.45">0</text>
<line x1="144.0" y1="1521.3" x2="895.0" y2="1521.3" stroke="#000" stroke-width="4.2" stroke-linecap="butt"/>
<text x="257.23" y="1134.30" font-size="31" font-weight="bold" fill="#000" textLength="205.99" lengthAdjust="spacingAndGlyphs" stroke="#fff" stroke-width="0.4">Immature DCs</text>
<text x="636.05" y="1134.00" font-size="31" font-weight="bold" fill="#000" textLength="166.30" lengthAdjust="spacingAndGlyphs" stroke="#fff" stroke-width="0.4">Mature DCs</text>
<line x1="182.8" y1="1163.6" x2="506.9" y2="1163.6" stroke="#000" stroke-width="2.2" stroke-linecap="butt"/>
<line x1="564.3" y1="1163.4" x2="890.2" y2="1163.4" stroke="#000" stroke-width="2.2" stroke-linecap="butt"/>
<g transform="translate(166.70,0)">
<path d="M0,1522.3 V1427.3 Q0,1423.8 3.5,1423.8 H46.30 Q49.80,1423.8 49.80,1427.3 V1522.3 Z" fill="#000"/>
<rect x="6" y="1428.8" width="37.30" height="93.5" fill="url(#q58)"/>
</g>
<line x1="191.6" y1="1424.8" x2="191.6" y2="1405.0" stroke="#000" stroke-width="5.0" stroke-linecap="butt"/>
<rect x="179.10" y="1402.00" width="25" height="6" rx="3" ry="3" fill="#000"/>
<g transform="translate(232.10,0)">
<path d="M0,1522.3 V1439.5 Q0,1436.0 3.5,1436.0 H47.50 Q51.00,1436.0 51.00,1439.5 V1522.3 Z" fill="#000"/>
<rect x="6" y="1441.0" width="38.50" height="81.3" fill="url(#q59)"/>
</g>
<line x1="257.6" y1="1437.0" x2="257.6" y2="1399.4" stroke="#000" stroke-width="5.0" stroke-linecap="butt"/>
<rect x="245.10" y="1396.40" width="25" height="6" rx="3" ry="3" fill="#000"/>
<g transform="translate(300.80,0)">
<path d="M0,1522.3 V1408.5 Q0,1405.0 3.5,1405.0 H47.50 Q51.00,1405.0 51.00,1408.5 V1522.3 Z" fill="#000"/>
<rect x="6" y="1410.0" width="38.50" height="112.3" fill="url(#q60)"/>
</g>
<line x1="326.3" y1="1406.0" x2="326.3" y2="1335.0" stroke="#000" stroke-width="5.0" stroke-linecap="butt"/>
<rect x="313.80" y="1332.00" width="25" height="6" rx="3" ry="3" fill="#000"/>
<g transform="translate(367.00,0)">
<path d="M0,1522.3 V1200.6 Q0,1197.1 3.5,1197.1 H48.50 Q52.00,1197.1 52.00,1200.6 V1522.3 Z" fill="#000"/>
<rect x="6" y="1202.1" width="39.50" height="320.2" fill="url(#q61)"/>
</g>
<line x1="393.0" y1="1198.1" x2="393.0" y2="1190.6" stroke="#000" stroke-width="5.0" stroke-linecap="butt"/>
<rect x="380.50" y="1187.60" width="25" height="6" rx="3" ry="3" fill="#000"/>
<g transform="translate(434.10,0)">
<path d="M0,1522.3 V1400.9 Q0,1397.4 3.5,1397.4 H46.90 Q50.40,1397.4 50.40,1400.9 V1522.3 Z" fill="#000"/>
<rect x="6" y="1402.4" width="37.90" height="119.9" fill="url(#q62)"/>
</g>
<g transform="translate(568.50,0)">
<path d="M0,1522.3 V1389.1 Q0,1385.6 3.5,1385.6 H47.80 Q51.30,1385.6 51.30,1389.1 V1522.3 Z" fill="#000"/>
<rect x="6" y="1390.6" width="38.80" height="131.7" fill="url(#q63)"/>
</g>
<line x1="594.1" y1="1386.6" x2="594.1" y2="1373.4" stroke="#000" stroke-width="5.0" stroke-linecap="butt"/>
<rect x="581.65" y="1370.40" width="25" height="6" rx="3" ry="3" fill="#000"/>
<g transform="translate(634.80,0)">
<path d="M0,1522.3 V1404.8 Q0,1401.3 3.5,1401.3 H46.50 Q50.00,1401.3 50.00,1404.8 V1522.3 Z" fill="#000"/>
<rect x="6" y="1406.3" width="37.50" height="116.0" fill="url(#q64)"/>
</g>
<line x1="659.8" y1="1402.3" x2="659.8" y2="1350.6" stroke="#000" stroke-width="5.0" stroke-linecap="butt"/>
<rect x="647.30" y="1347.60" width="25" height="6" rx="3" ry="3" fill="#000"/>
<g transform="translate(702.80,0)">
<path d="M0,1522.3 V1445.0 Q0,1441.5 3.5,1441.5 H47.50 Q51.00,1441.5 51.00,1445.0 V1522.3 Z" fill="#000"/>
<rect x="6" y="1446.5" width="38.50" height="75.8" fill="url(#q65)"/>
</g>
<g transform="translate(769.30,0)">
<path d="M0,1522.3 V1402.5 Q0,1399.0 3.5,1399.0 H47.50 Q51.00,1399.0 51.00,1402.5 V1522.3 Z" fill="#000"/>
<rect x="6" y="1404.0" width="38.50" height="118.3" fill="url(#q66)"/>
</g>
<line x1="794.8" y1="1400.0" x2="794.8" y2="1394.5" stroke="#000" stroke-width="5.0" stroke-linecap="butt"/>
<rect x="782.30" y="1391.50" width="25" height="6" rx="3" ry="3" fill="#000"/>
<g transform="translate(835.80,0)">
<path d="M0,1522.3 V1390.7 Q0,1387.2 3.5,1387.2 H46.80 Q50.30,1387.2 50.30,1390.7 V1522.3 Z" fill="#000"/>
<rect x="6" y="1392.2" width="37.80" height="130.1" fill="url(#q67)"/>
</g>
<line x1="190.4" y1="1521.3" x2="190.4" y2="1531.0" stroke="#000" stroke-width="5.0" stroke-linecap="round"/>
<line x1="257.5" y1="1521.3" x2="257.5" y2="1531.0" stroke="#000" stroke-width="5.0" stroke-linecap="round"/>
<line x1="325.6" y1="1521.3" x2="325.6" y2="1531.0" stroke="#000" stroke-width="5.0" stroke-linecap="round"/>
<line x1="392.3" y1="1521.3" x2="392.3" y2="1531.0" stroke="#000" stroke-width="5.0" stroke-linecap="round"/>
<line x1="457.6" y1="1521.3" x2="457.6" y2="1531.0" stroke="#000" stroke-width="5.0" stroke-linecap="round"/>
<line x1="526.6" y1="1521.3" x2="526.6" y2="1531.0" stroke="#000" stroke-width="5.0" stroke-linecap="round"/>
<line x1="592.2" y1="1521.3" x2="592.2" y2="1531.0" stroke="#000" stroke-width="5.0" stroke-linecap="round"/>
<line x1="658.8" y1="1521.3" x2="658.8" y2="1531.0" stroke="#000" stroke-width="5.0" stroke-linecap="round"/>
<line x1="727.0" y1="1521.3" x2="727.0" y2="1531.0" stroke="#000" stroke-width="5.0" stroke-linecap="round"/>
<line x1="792.7" y1="1521.3" x2="792.7" y2="1531.0" stroke="#000" stroke-width="5.0" stroke-linecap="round"/>
<line x1="859.2" y1="1521.3" x2="859.2" y2="1531.0" stroke="#000" stroke-width="5.0" stroke-linecap="round"/>
<text class="rl" transform="translate(152.4,1574.3) rotate(-37.5)" font-size="31.5" text-anchor="middle" dominant-baseline="central">Vehicle</text>
<text class="rl" transform="translate(215.2,1582.5) rotate(-38)" font-size="30.5" text-anchor="middle" dominant-baseline="central">5 nM</text>
<text class="rl" transform="translate(274.8,1575.5) rotate(-36)" font-size="29.3" text-anchor="middle" dominant-baseline="central">10 nM</text>
<text class="rl" transform="translate(356.0,1570.9) rotate(-34.5)" font-size="30.3" text-anchor="middle" dominant-baseline="central">100 nM</text>
<text class="rl" transform="translate(428.5,1573.8) rotate(-36.5)" font-size="30" text-anchor="middle" dominant-baseline="central">Inhibitor</text>
<text class="rl" transform="translate(568.1,1572.2) rotate(-37.5)" font-size="31.5" text-anchor="middle" dominant-baseline="central">Vehicle</text>
<text class="rl" transform="translate(630.2,1580.6) rotate(-38)" font-size="30.5" text-anchor="middle" dominant-baseline="central">5 nM</text>
<text class="rl" transform="translate(689.8,1573.5) rotate(-36)" font-size="29.3" text-anchor="middle" dominant-baseline="central">10 nM</text>
<text class="rl" transform="translate(768.6,1568.9) rotate(-34.5)" font-size="30.3" text-anchor="middle" dominant-baseline="central">100 nM</text>
<text class="rl" transform="translate(836.1,1572.0) rotate(-36.5)" font-size="30" text-anchor="middle" dominant-baseline="central">Inhibitor</text>
<line x1="168.7" y1="1624.6" x2="346.1" y2="1624.6" stroke="#000" stroke-width="2.2" stroke-linecap="butt"/>
<line x1="576.3" y1="1625.3" x2="753.7" y2="1625.3" stroke="#000" stroke-width="2.2" stroke-linecap="butt"/>
<text x="226.73" y="1655.80" font-size="29.5" font-weight="normal" fill="#000" textLength="62.49" lengthAdjust="spacingAndGlyphs" >DEC</text>
<text x="633.44" y="1655.80" font-size="29.5" font-weight="normal" fill="#000" textLength="62.39" lengthAdjust="spacingAndGlyphs" >DEC</text>
</g>
<defs><pattern id="pv" patternUnits="userSpaceOnUse" x="5.5" y="0" width="8.34" height="8.75"><rect width="8.34" height="8.75" fill="#000"/><rect x="0.5" y="0.5" width="3.17" height="3.375" fill="#fff"/><rect x="4.67" y="4.875" width="3.17" height="3.375" fill="#fff"/></pattern><pattern id="p5" patternUnits="userSpaceOnUse" x="5.5" y="0" width="12.5" height="18.3"><rect width="12.5" height="18.3" fill="#000"/><rect x="0.3" y="0.6" width="5.6" height="8" fill="#fff"/><rect x="6.6" y="9.8" width="5.4" height="7.8" fill="#fff"/></pattern><pattern id="p10" patternUnits="userSpaceOnUse" x="5.5" y="2" width="12.5" height="9.1"><rect width="12.5" height="9.1" fill="#2a2a2a"/><rect x="0.8" y="0" width="10.9" height="6" fill="#fff"/></pattern><pattern id="p100" patternUnits="userSpaceOnUse" x="5.5" y="0" width="12.5" height="10"><rect width="12.5" height="10" fill="#fff"/><rect x="0" y="0" width="0.8" height="10" fill="#000"/><rect x="4.6" y="0" width="3" height="10" fill="#777"/><rect x="11.7" y="0" width="0.8" height="10" fill="#000"/></pattern><pattern id="bv" patternUnits="userSpaceOnUse" x="6" y="0" width="8.8" height="8.8"><rect width="8.8" height="8.8" fill="#000"/><rect x="0.6" y="0.6" width="3.2" height="3.2" fill="#fff"/><rect x="5.0" y="5.0" width="3.2" height="3.2" fill="#fff"/></pattern><pattern id="b5" patternUnits="userSpaceOnUse" x="6" y="0" width="9" height="17.4"><rect width="9" height="17.4" fill="#000"/><rect x="0" y="0.8" width="4.2" height="7" fill="#fff"/><rect x="4.4" y="9.5" width="4.2" height="7" fill="#fff"/></pattern><pattern id="b10" patternUnits="userSpaceOnUse" x="6" y="1" width="11" height="8.6"><rect width="11" height="8.6" fill="#222"/><rect x="0.5" y="0" width="10" height="5.6" fill="#fff"/></pattern><pattern id="b100" patternUnits="userSpaceOnUse" x="6" y="0" width="10" height="10"><rect width="10" height="10" fill="#fff"/><rect x="4.2" y="0" width="1.6" height="10" fill="#555"/></pattern><pattern id="pb" patternUnits="userSpaceOnUse" x="6" y="0" width="10.1" height="7.8"><rect width="10.1" height="7.8" fill="#000"/><rect x="0.5" y="0.4" width="4.05" height="3.1" fill="#fff"/><rect x="5.55" y="4.3" width="4.05" height="3.1" fill="#fff"/></pattern><pattern id="q1" patternUnits="userSpaceOnUse" x="5.5" y="0" width="9.23" height="8.75"><rect width="9.23" height="8.75" fill="#000"/><rect x="0.3" y="0.3" width="4.02" height="3.775" fill="#fff"/><rect x="4.92" y="4.675" width="4.02" height="3.775" fill="#fff"/></pattern><pattern id="q2" patternUnits="userSpaceOnUse" x="5.5" y="0" width="9.23" height="8.75"><rect width="9.23" height="8.75" fill="#000"/><rect x="0.3" y="0.3" width="4.02" height="3.775" fill="#fff"/><rect x="4.92" y="4.675" width="4.02" height="3.775" fill="#fff"/></pattern><pattern id="q3" patternUnits="userSpaceOnUse" x="5.5" y="0" width="13.30" height="18.3"><rect width="13.30" height="18.3" fill="#000"/><rect x="0.3" y="0.6" width="5.75" height="8" fill="#fff"/><rect x="7.05" y="9.8" width="5.75" height="7.8" fill="#fff"/></pattern><pattern id="q4" patternUnits="userSpaceOnUse" x="5.5" y="0" width="13.30" height="18.3"><rect width="13.30" height="18.3" fill="#000"/><rect x="0.3" y="0.6" width="5.75" height="8" fill="#fff"/><rect x="7.05" y="9.8" width="5.75" height="7.8" fill="#fff"/></pattern><pattern id="q5" patternUnits="userSpaceOnUse" x="5.5" y="2" width="14.45" height="9.1"><rect width="14.45" height="9.1" fill="#2a2a2a"/><rect x="0.8" y="0" width="12.85" height="6" fill="#fff"/></pattern><pattern id="q6" patternUnits="userSpaceOnUse" x="5.5" y="2" width="14.45" height="9.1"><rect width="14.45" height="9.1" fill="#2a2a2a"/><rect x="0.8" y="0" width="12.85" height="6" fill="#fff"/></pattern><pattern id="q7" patternUnits="userSpaceOnUse" x="5.5" y="0" width="12.40" height="10"><rect width="12.40" height="10" fill="#fff"/><rect x="4.13" y="0" width="4.13" height="10" fill="#777"/></pattern><pattern id="q8" patternUnits="userSpaceOnUse" x="5.5" y="0" width="12.40" height="10"><rect width="12.40" height="10" fill="#fff"/><rect x="4.13" y="0" width="4.13" height="10" fill="#777"/></pattern><pattern id="q9" patternUnits="userSpaceOnUse" x="5.5" y="0" width="9.67" height="8.75"><rect width="9.67" height="8.75" fill="#000"/><rect x="0.3" y="0.3" width="4.23" height="3.775" fill="#fff"/><rect x="5.13" y="4.675" width="4.23" height="3.775" fill="#fff"/></pattern><pattern id="q10" patternUnits="userSpaceOnUse" x="5.5" y="0" width="13.40" height="18.3"><rect width="13.40" height="18.3" fill="#000"/><rect x="0.3" y="0.6" width="5.80" height="8" fill="#fff"/><rect x="7.10" y="9.8" width="5.80" height="7.8" fill="#fff"/></pattern><pattern id="q11" patternUnits="userSpaceOnUse" x="5.5" y="2" width="12.80" height="9.1"><rect width="12.80" height="9.1" fill="#2a2a2a"/><rect x="0.8" y="0" width="11.20" height="6" fill="#fff"/></pattern><pattern id="q12" patternUnits="userSpaceOnUse" x="5.5" y="0" width="12.60" height="10"><rect width="12.60" height="10" fill="#fff"/><rect x="4.20" y="0" width="4.20" height="10" fill="#777"/></pattern><pattern id="q13" patternUnits="userSpaceOnUse" x="5.5" y="0" width="12.60" height="10"><rect width="12.60" height="10" fill="#fff"/><rect x="4.20" y="0" width="4.20" height="10" fill="#777"/></pattern><pattern id="q14" patternUnits="userSpaceOnUse" x="5.5" y="0" width="8.40" height="8.75"><rect width="8.40" height="8.75" fill="#000"/><rect x="0.3" y="0.3" width="3.60" height="3.775" fill="#fff"/><rect x="4.50" y="4.675" width="3.60" height="3.775" fill="#fff"/></pattern><pattern id="q15" patternUnits="userSpaceOnUse" x="5.5" y="0" width="12.50" height="18.3"><rect width="12.50" height="18.3" fill="#000"/><rect x="0.3" y="0.6" width="5.35" height="8" fill="#fff"/><rect x="6.65" y="9.8" width="5.35" height="7.8" fill="#fff"/></pattern><pattern id="q16" patternUnits="userSpaceOnUse" x="5.5" y="2" width="13.40" height="9.1"><rect width="13.40" height="9.1" fill="#2a2a2a"/><rect x="0.8" y="0" width="11.80" height="6" fill="#fff"/></pattern><pattern id="q17" patternUnits="userSpaceOnUse" x="5.5" y="0" width="14.20" height="10"><rect width="14.20" height="10" fill="#fff"/><rect x="4.73" y="0" width="4.73" height="10" fill="#777"/></pattern><pattern id="q18" patternUnits="userSpaceOnUse" x="5.5" y="0" width="8.07" height="8.75"><rect width="8.07" height="8.75" fill="#000"/><rect x="0.3" y="0.3" width="3.43" height="3.775" fill="#fff"/><rect x="4.33" y="4.675" width="3.43" height="3.775" fill="#fff"/></pattern><pattern id="q19" patternUnits="userSpaceOnUse" x="5.5" y="0" width="12.90" height="18.3"><rect width="12.90" height="18.3" fill="#000"/><rect x="0.3" y="0.6" width="5.55" height="8" fill="#fff"/><rect x="6.85" y="9.8" width="5.55" height="7.8" fill="#fff"/></pattern><pattern id="q20" patternUnits="userSpaceOnUse" x="5.5" y="2" width="14.30" height="9.1"><rect width="14.30" height="9.1" fill="#2a2a2a"/><rect x="0.8" y="0" width="12.70" height="6" fill="#fff"/></pattern><pattern id="q21" patternUnits="userSpaceOnUse" x="5.5" y="0" width="11.50" height="10"><rect width="11.50" height="10" fill="#fff"/><rect x="3.83" y="0" width="3.83" height="10" fill="#777"/></pattern><pattern id="q22" patternUnits="userSpaceOnUse" x="5.5" y="0" width="9.87" height="8.75"><rect width="9.87" height="8.75" fill="#000"/><rect x="0.3" y="0.3" width="4.33" height="3.775" fill="#fff"/><rect x="5.23" y="4.675" width="4.33" height="3.775" fill="#fff"/></pattern><pattern id="q23" patternUnits="userSpaceOnUse" x="5.5" y="0" width="12.90" height="18.3"><rect width="12.90" height="18.3" fill="#000"/><rect x="0.3" y="0.6" width="5.55" height="8" fill="#fff"/><rect x="6.85" y="9.8" width="5.55" height="7.8" fill="#fff"/></pattern><pattern id="q24" patternUnits="userSpaceOnUse" x="5.5" y="2" width="13.20" height="9.1"><rect width="13.20" height="9.1" fill="#2a2a2a"/><rect x="0.8" y="0" width="11.60" height="6" fill="#fff"/></pattern><pattern id="q25" patternUnits="userSpaceOnUse" x="5.5" y="0" width="11.70" height="10"><rect width="11.70" height="10" fill="#fff"/><rect x="3.90" y="0" width="3.90" height="10" fill="#777"/></pattern><pattern id="q26" patternUnits="userSpaceOnUse" x="5.5" y="0" width="7.40" height="8.75"><rect width="7.40" height="8.75" fill="#000"/><rect x="0.3" y="0.3" width="3.10" height="3.775" fill="#fff"/><rect x="4.00" y="4.675" width="3.10" height="3.775" fill="#fff"/></pattern><pattern id="q27" patternUnits="userSpaceOnUse" x="5.5" y="0" width="13.10" height="18.3"><rect width="13.10" height="18.3" fill="#000"/><rect x="0.3" y="0.6" width="5.65" height="8" fill="#fff"/><rect x="6.95" y="9.8" width="5.65" height="7.8" fill="#fff"/></pattern><pattern id="q28" patternUnits="userSpaceOnUse" x="5.5" y="2" width="14.00" height="9.1"><rect width="14.00" height="9.1" fill="#2a2a2a"/><rect x="0.8" y="0" width="12.40" height="6" fill="#fff"/></pattern><pattern id="q29" patternUnits="userSpaceOnUse" x="5.5" y="0" width="12.10" height="10"><rect width="12.10" height="10" fill="#fff"/><rect x="4.03" y="0" width="4.03" height="10" fill="#777"/></pattern><pattern id="q30" patternUnits="userSpaceOnUse" x="6" y="0" width="7.80" height="8.6"><rect width="7.80" height="8.6" fill="#000"/><rect x="0.1" y="0.1" width="3.70" height="4.10" fill="#fff"/><rect x="4.00" y="4.40" width="3.70" height="4.10" fill="#fff"/></pattern><pattern id="q31" patternUnits="userSpaceOnUse" x="6" y="0" width="7.80" height="8.6"><rect width="7.80" height="8.6" fill="#000"/><rect x="0.1" y="0.1" width="3.70" height="4.10" fill="#fff"/><rect x="4.00" y="4.40" width="3.70" height="4.10" fill="#fff"/></pattern><pattern id="q32" patternUnits="userSpaceOnUse" x="7" y="0" width="10.00" height="17"><rect width="10.00" height="17" fill="#000"/><rect x="0" y="0.5" width="5.20" height="6.5" fill="#fff"/><rect x="5.90" y="9" width="3.80" height="6.5" fill="#fff"/></pattern><pattern id="q33" patternUnits="userSpaceOnUse" x="7" y="0" width="10.00" height="17"><rect width="10.00" height="17" fill="#000"/><rect x="0" y="0.5" width="5.20" height="6.5" fill="#fff"/><rect x="5.90" y="9" width="3.80" height="6.5" fill="#fff"/></pattern><pattern id="q34" patternUnits="userSpaceOnUse" x="6" y="1" width="12.70" height="8.7"><rect width="12.70" height="8.7" fill="#222"/><rect x="0.5" y="0" width="11.70" height="6" fill="#fff"/></pattern><pattern id="q35" patternUnits="userSpaceOnUse" x="6" y="1" width="12.70" height="8.7"><rect width="12.70" height="8.7" fill="#222"/><rect x="0.5" y="0" width="11.70" height="6" fill="#fff"/></pattern><pattern id="q36" patternUnits="userSpaceOnUse" x="6" y="0" width="7.07" height="8.6"><rect width="7.07" height="8.6" fill="#000"/><rect x="0.1" y="0.1" width="3.33" height="4.10" fill="#fff"/><rect x="3.63" y="4.40" width="3.33" height="4.10" fill="#fff"/></pattern><pattern id="q37" patternUnits="userSpaceOnUse" x="6" y="0" width="7.07" height="8.6"><rect width="7.07" height="8.6" fill="#000"/><rect x="0.1" y="0.1" width="3.33" height="4.10" fill="#fff"/><rect x="3.63" y="4.40" width="3.33" height="4.10" fill="#fff"/></pattern><pattern id="q38" patternUnits="userSpaceOnUse" x="7" y="0" width="12.50" height="17"><rect width="12.50" height="17" fill="#000"/><rect x="0" y="0.5" width="6.60" height="6.5" fill="#fff"/><rect x="7.30" y="9" width="4.90" height="6.5" fill="#fff"/></pattern><pattern id="q39" patternUnits="userSpaceOnUse" x="7" y="0" width="12.50" height="17"><rect width="12.50" height="17" fill="#000"/><rect x="0" y="0.5" width="6.60" height="6.5" fill="#fff"/><rect x="7.30" y="9" width="4.90" height="6.5" fill="#fff"/></pattern><pattern id="q40" patternUnits="userSpaceOnUse" x="6" y="1" width="12.00" height="8.7"><rect width="12.00" height="8.7" fill="#222"/><rect x="0.5" y="0" width="11.00" height="6" fill="#fff"/></pattern><pattern id="q41" patternUnits="userSpaceOnUse" x="6" y="1" width="12.00" height="8.7"><rect width="12.00" height="8.7" fill="#222"/><rect x="0.5" y="0" width="11.00" height="6" fill="#fff"/></pattern><pattern id="q42" patternUnits="userSpaceOnUse" x="6" y="0" width="10.00" height="10"><rect width="10.00" height="10" fill="#fff"/><rect x="3.33" y="0" width="3.33" height="10" fill="#777"/></pattern><pattern id="q43" patternUnits="userSpaceOnUse" x="6" y="0" width="10.00" height="10"><rect width="10.00" height="10" fill="#fff"/><rect x="3.33" y="0" width="3.33" height="10" fill="#777"/></pattern><pattern id="q44" patternUnits="userSpaceOnUse" x="6" y="0" width="7.53" height="8.6"><rect width="7.53" height="8.6" fill="#000"/><rect x="0.1" y="0.1" width="3.57" height="4.10" fill="#fff"/><rect x="3.87" y="4.40" width="3.57" height="4.10" fill="#fff"/></pattern><pattern id="q45" patternUnits="userSpaceOnUse" x="7" y="0" width="11.00" height="17"><rect width="11.00" height="17" fill="#000"/><rect x="0" y="0.5" width="5.76" height="6.5" fill="#fff"/><rect x="6.46" y="9" width="4.24" height="6.5" fill="#fff"/></pattern><pattern id="q46" patternUnits="userSpaceOnUse" x="6" y="1" width="10.60" height="8.7"><rect width="10.60" height="8.7" fill="#222"/><rect x="0.5" y="0" width="9.60" height="6" fill="#fff"/></pattern><pattern id="q47" patternUnits="userSpaceOnUse" x="6" y="0" width="6.73" height="8.6"><rect width="6.73" height="8.6" fill="#000"/><rect x="0.1" y="0.1" width="3.17" height="4.10" fill="#fff"/><rect x="3.47" y="4.40" width="3.17" height="4.10" fill="#fff"/></pattern><pattern id="q48" patternUnits="userSpaceOnUse" x="7" y="0" width="10.40" height="17"><rect width="10.40" height="17" fill="#000"/><rect x="0" y="0.5" width="5.42" height="6.5" fill="#fff"/><rect x="6.12" y="9" width="3.98" height="6.5" fill="#fff"/></pattern><pattern id="q49" patternUnits="userSpaceOnUse" x="6" y="1" width="11.90" height="8.7"><rect width="11.90" height="8.7" fill="#222"/><rect x="0.5" y="0" width="10.90" height="6" fill="#fff"/></pattern><pattern id="q50" patternUnits="userSpaceOnUse" x="6" y="0" width="12.30" height="10"><rect width="12.30" height="10" fill="#fff"/><rect x="4.10" y="0" width="4.10" height="10" fill="#777"/></pattern><pattern id="q51" patternUnits="userSpaceOnUse" x="6" y="0" width="6.60" height="8.6"><rect width="6.60" height="8.6" fill="#000"/><rect x="0.1" y="0.1" width="3.10" height="4.10" fill="#fff"/><rect x="3.40" y="4.40" width="3.10" height="4.10" fill="#fff"/></pattern><pattern id="q52" patternUnits="userSpaceOnUse" x="7" y="0" width="11.70" height="17"><rect width="11.70" height="17" fill="#000"/><rect x="0" y="0.5" width="6.15" height="6.5" fill="#fff"/><rect x="6.85" y="9" width="4.55" height="6.5" fill="#fff"/></pattern><pattern id="q53" patternUnits="userSpaceOnUse" x="6" y="1" width="11.50" height="8.7"><rect width="11.50" height="8.7" fill="#222"/><rect x="0.5" y="0" width="10.50" height="6" fill="#fff"/></pattern><pattern id="q54" patternUnits="userSpaceOnUse" x="6" y="0" width="7.53" height="8.6"><rect width="7.53" height="8.6" fill="#000"/><rect x="0.1" y="0.1" width="3.57" height="4.10" fill="#fff"/><rect x="3.87" y="4.40" width="3.57" height="4.10" fill="#fff"/></pattern><pattern id="q55" patternUnits="userSpaceOnUse" x="7" y="0" width="11.50" height="17"><rect width="11.50" height="17" fill="#000"/><rect x="0" y="0.5" width="6.04" height="6.5" fill="#fff"/><rect x="6.74" y="9" width="4.46" height="6.5" fill="#fff"/></pattern><pattern id="q56" patternUnits="userSpaceOnUse" x="6" y="1" width="11.70" height="8.7"><rect width="11.70" height="8.7" fill="#222"/><rect x="0.5" y="0" width="10.70" height="6" fill="#fff"/></pattern><pattern id="q57" patternUnits="userSpaceOnUse" x="6" y="0" width="12.00" height="10"><rect width="12.00" height="10" fill="#fff"/><rect x="4.00" y="0" width="4.00" height="10" fill="#777"/></pattern><pattern id="q58" patternUnits="userSpaceOnUse" x="6" y="3.9" width="10.1" height="7.8"><rect width="10.1" height="7.8" fill="#000"/><rect x="0.3" y="0.25" width="4.45" height="3.4" fill="#fff"/><rect x="5.35" y="4.15" width="4.45" height="3.4" fill="#fff"/></pattern><pattern id="q59" patternUnits="userSpaceOnUse" x="6" y="3.9" width="10.1" height="7.8"><rect width="10.1" height="7.8" fill="#000"/><rect x="0.3" y="0.25" width="4.45" height="3.4" fill="#fff"/><rect x="5.35" y="4.15" width="4.45" height="3.4" fill="#fff"/></pattern><pattern id="q60" patternUnits="userSpaceOnUse" x="6" y="3.9" width="10.1" height="7.8"><rect width="10.1" height="7.8" fill="#000"/><rect x="0.3" y="0.25" width="4.45" height="3.4" fill="#fff"/><rect x="5.35" y="4.15" width="4.45" height="3.4" fill="#fff"/></pattern><pattern id="q61" patternUnits="userSpaceOnUse" x="6" y="3.9" width="10.1" height="7.8"><rect width="10.1" height="7.8" fill="#000"/><rect x="0.3" y="0.25" width="4.45" height="3.4" fill="#fff"/><rect x="5.35" y="4.15" width="4.45" height="3.4" fill="#fff"/></pattern><pattern id="q62" patternUnits="userSpaceOnUse" x="6" y="3.9" width="10.1" height="7.8"><rect width="10.1" height="7.8" fill="#000"/><rect x="0.3" y="0.25" width="4.45" height="3.4" fill="#fff"/><rect x="5.35" y="4.15" width="4.45" height="3.4" fill="#fff"/></pattern><pattern id="q63" patternUnits="userSpaceOnUse" x="6" y="3.9" width="10.1" height="7.8"><rect width="10.1" height="7.8" fill="#000"/><rect x="0.3" y="0.25" width="4.45" height="3.4" fill="#fff"/><rect x="5.35" y="4.15" width="4.45" height="3.4" fill="#fff"/></pattern><pattern id="q64" patternUnits="userSpaceOnUse" x="6" y="3.9" width="10.1" height="7.8"><rect width="10.1" height="7.8" fill="#000"/><rect x="0.3" y="0.25" width="4.45" height="3.4" fill="#fff"/><rect x="5.35" y="4.15" width="4.45" height="3.4" fill="#fff"/></pattern><pattern id="q65" patternUnits="userSpaceOnUse" x="6" y="3.9" width="10.1" height="7.8"><rect width="10.1" height="7.8" fill="#000"/><rect x="0.3" y="0.25" width="4.45" height="3.4" fill="#fff"/><rect x="5.35" y="4.15" width="4.45" height="3.4" fill="#fff"/></pattern><pattern id="q66" patternUnits="userSpaceOnUse" x="6" y="3.9" width="10.1" height="7.8"><rect width="10.1" height="7.8" fill="#000"/><rect x="0.3" y="0.25" width="4.45" height="3.4" fill="#fff"/><rect x="5.35" y="4.15" width="4.45" height="3.4" fill="#fff"/></pattern><pattern id="q67" patternUnits="userSpaceOnUse" x="6" y="3.9" width="10.1" height="7.8"><rect width="10.1" height="7.8" fill="#000"/><rect x="0.3" y="0.25" width="4.45" height="3.4" fill="#fff"/><rect x="5.35" y="4.15" width="4.45" height="3.4" fill="#fff"/></pattern></defs>
</svg></div></body></html>
